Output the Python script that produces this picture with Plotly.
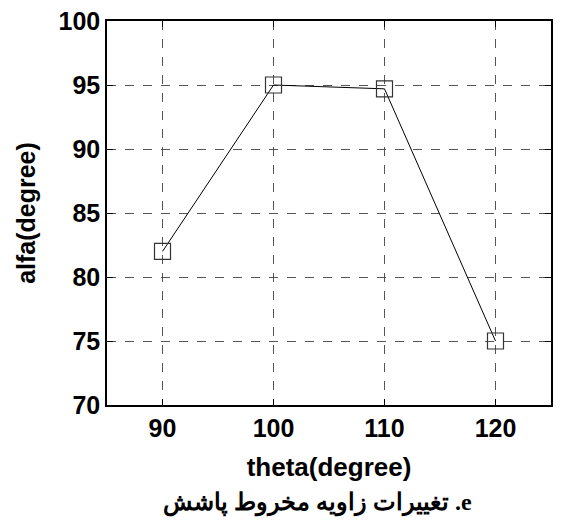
import plotly.graph_objects as go

theta = [90, 100, 110, 120]
alfa = [82.0, 95.0, 94.7, 75.0]
x_ticks = [90, 100, 110, 120]
y_ticks = [70, 75, 80, 85, 90, 95, 100]
x_title = "theta(degree)"
y_title = "alfa(degree)"
caption = "\u202Be. تغییرات زاویه مخروط پاشش\u202C"

fig = go.Figure()
fig.add_trace(go.Scatter(
    x=theta, y=alfa, mode="lines+markers",
    line=dict(color="black", width=1),
    marker=dict(symbol="square-open", size=16, color="#333333",
                line=dict(width=1.2, color="#333333")),
    showlegend=False,
))

axis_common = dict(
    showline=True, linecolor="black", linewidth=1.5, mirror="ticks",
    ticks="inside", ticklen=6, tickcolor="black",
    showgrid=True, gridcolor="#555555", griddash="dash", gridwidth=1,
    zeroline=False, automargin=False, ticklabeloverflow="allow",
    tickfont=dict(family="Liberation Sans", size=25, color="black", weight="bold"),
)

fig.update_xaxes(range=[85, 125], tickvals=x_ticks, ticktext=[str(v) for v in x_ticks],
                 title=dict(text=x_title, standoff=17,
                            font=dict(family="Liberation Sans", size=26, color="black", weight="bold")),
                 **axis_common)
fig.update_yaxes(range=[70, 100], tickvals=y_ticks, ticktext=[str(v) for v in y_ticks],
                 title=dict(text=y_title, standoff=16,
                            font=dict(family="Liberation Sans", size=25, color="black", weight="bold")),
                 **axis_common)

fig.add_annotation(text=caption, xref="paper", yref="paper", x=0.475, y=-0.255,
                   showarrow=False, xanchor="center", yanchor="middle",
                   font=dict(family="Liberation Serif, DejaVu Serif", size=24, color="black", weight="bold"))

fig.update_layout(
    width=566, height=526,
    margin=dict(l=99, r=23, t=13, b=129),
    plot_bgcolor="white", paper_bgcolor="white",
)

fig.write_html("out.html")
